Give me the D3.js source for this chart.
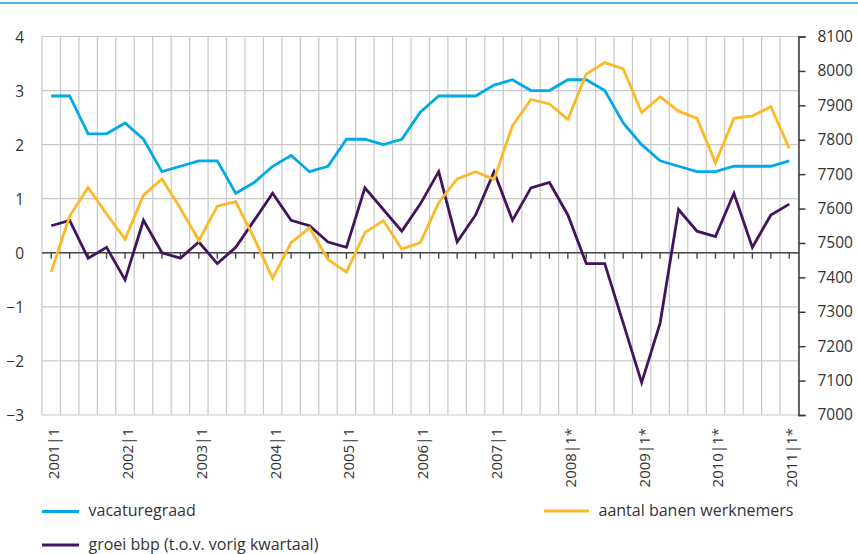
<!DOCTYPE html>
<html>
<head>
<meta charset="utf-8">
<script src="https://cdn.jsdelivr.net/npm/d3@7"></script>
<style>
  html, body { margin: 0; padding: 0; background: #fff; }
  svg { display: block; font-family: "Open Sans", "DejaVu Sans", sans-serif; }
</style>
</head>
<body>
<svg id="chart" width="858" height="554"></svg>
<script>
// Quarters 2001 Q1 .. 2011 Q1
const quarters = [
  "2001q1","2001q2","2001q3","2001q4","2002q1","2002q2","2002q3","2002q4",
  "2003q1","2003q2","2003q3","2003q4","2004q1","2004q2","2004q3","2004q4",
  "2005q1","2005q2","2005q3","2005q4","2006q1","2006q2","2006q3","2006q4",
  "2007q1","2007q2","2007q3","2007q4","2008q1","2008q2","2008q3","2008q4",
  "2009q1","2009q2","2009q3","2009q4","2010q1","2010q2","2010q3","2010q4",
  "2011q1"
];

// Labels shown under the axis, one per year (first quarter)
const yearTickQuarters = ["2001q1","2002q1","2003q1","2004q1","2005q1","2006q1",
  "2007q1","2008q1","2009q1","2010q1","2011q1"];
const yearTickLabels = ["2001|1","2002|1","2003|1","2004|1","2005|1","2006|1",
  "2007|1","2008|1*","2009|1*","2010|1*","2011|1*"];

// Left axis (percent) and right axis (x 1000 jobs) ticks
const leftTicks = [-3, -2, -1, 0, 1, 2, 3, 4];
const rightTicks = [7000, 7100, 7200, 7300, 7400, 7500, 7600, 7700, 7800, 7900, 8000, 8100];

// Vacancy rate (left axis)
const vacaturegraad = [2.9,2.9,2.2,2.2,2.4,2.1,1.5,1.6,1.7,1.7,1.1,1.3,1.6,1.8,1.5,1.6,
  2.1,2.1,2.0,2.1,2.6,2.9,2.9,2.9,3.1,3.2,3.0,3.0,3.2,3.2,3.0,2.4,2.0,1.7,1.6,1.5,
  1.5,1.6,1.6,1.6,1.7];

// GDP growth vs previous quarter (left axis)
const groeiBbp = [0.5,0.6,-0.1,0.1,-0.5,0.6,0.0,-0.1,0.2,-0.2,0.1,0.6,1.1,0.6,0.5,0.2,
  0.1,1.2,0.8,0.4,0.9,1.5,0.2,0.7,1.5,0.6,1.2,1.3,0.7,-0.2,-0.2,-1.3,-2.4,-1.3,0.8,0.4,
  0.3,1.1,0.1,0.7,0.9];

// Employee jobs (right axis)
const banenWerknemers = [7416,7578,7661,7584,7511,7639,7686,7601,7507,7607,7620,7513,
  7397,7501,7544,7452,7415,7530,7565,7482,7501,7617,7686,7707,7685,7841,7917,7904,
  7859,7991,8024,8006,7879,7925,7883,7862,7733,7862,7869,7896,7775];

const seriesNames = ["vacaturegraad", "aantal banen werknemers", "groei bbp (t.o.v. vorig kwartaal)"];
const colors = { vac: "#00a9e8", banen: "#fdb827", bbp: "#42145f" };

const svg = d3.select("#chart");

const plot = { left: 42, right: 798.5, top: 36.5, bottom: 415 };

const x = d3.scaleBand().domain(quarters).range([plot.left, plot.right]).padding(0);
const yL = d3.scaleLinear().domain([-3, 4]).range([plot.bottom, plot.top]);
const yR = d3.scaleLinear().domain([7000, 8100]).range([plot.bottom, plot.top]);
const cx = q => x(q) + x.bandwidth() / 2;

// Top rule
svg.append("line").attr("x1", 0).attr("x2", 858).attr("y1", 3).attr("y2", 3)
  .attr("stroke", "#56b2e4").attr("stroke-width", 2);

// Grid: vertical lines at quarter boundaries
const grid = svg.append("g").attr("stroke", "#c8c8c8").attr("stroke-width", 1.2);
const bounds = quarters.map(q => x(q)).concat([plot.right]);
grid.selectAll("line.v").data(bounds).join("line").attr("class", "v")
  .attr("x1", d => d).attr("x2", d => d)
  .attr("y1", plot.top).attr("y2", plot.bottom);
// Horizontal lines at left-axis ticks
grid.selectAll("line.h").data(leftTicks).join("line").attr("class", "h")
  .attr("x1", plot.left).attr("x2", plot.right)
  .attr("y1", d => yL(d)).attr("y2", d => yL(d));

// Left axis labels
const fmtL = d => d < 0 ? "\u2212" + Math.abs(d) : String(d);
svg.append("g").selectAll("text").data(leftTicks).join("text")
  .attr("x", 24).attr("y", d => yL(d))
  .attr("text-anchor", "end").attr("dominant-baseline", "central")
  .attr("font-size", 15.5).attr("fill", "#333")
  .text(fmtL);

// Right axis
const rAxis = svg.append("g").attr("transform", `translate(${plot.right},0)`)
  .call(d3.axisRight(yR).tickValues(rightTicks).tickSize(7).tickPadding(12).tickFormat(d3.format("d")));
rAxis.select(".domain").attr("stroke", "#3a3a3a").attr("stroke-width", 1.5);
rAxis.selectAll(".tick line").attr("stroke", "#3a3a3a").attr("stroke-width", 1.5);
rAxis.selectAll(".tick text").attr("font-size", 15.5).attr("fill", "#333")
  .attr("font-family", "'Open Sans', sans-serif");

// Zero line with quarter ticks
const xAxis = svg.append("g").attr("transform", `translate(0,${yL(0)})`)
  .call(d3.axisBottom(x).tickSize(6).tickFormat(""));
xAxis.select(".domain").attr("d", `M${plot.left},0H${plot.right}`)
  .attr("stroke", "#4a4a4a").attr("stroke-width", 1.6);
xAxis.selectAll(".tick line").attr("stroke", "#4a4a4a").attr("stroke-width", 1.4);

// Year labels, rotated
svg.append("g").selectAll("text").data(yearTickQuarters).join("text")
  .attr("transform", q => `translate(${cx(q)},428) rotate(-90)`)
  .attr("text-anchor", "end").attr("dy", 8)
  .attr("font-size", 15).attr("fill", "#333")
  .text((q, i) => yearTickLabels[i]);

// Series lines
const lineL = d3.line().x((d, i) => cx(quarters[i])).y(d => yL(d));
const lineR = d3.line().x((d, i) => cx(quarters[i])).y(d => yR(d));

svg.append("path").datum(groeiBbp).attr("d", lineL)
  .attr("fill", "none").attr("stroke", colors.bbp).attr("stroke-width", 2.8)
  .attr("stroke-linejoin", "miter");
svg.append("path").datum(vacaturegraad).attr("d", lineL)
  .attr("fill", "none").attr("stroke", colors.vac).attr("stroke-width", 2.8)
  .attr("stroke-linejoin", "miter");
svg.append("path").datum(banenWerknemers).attr("d", lineR)
  .attr("fill", "none").attr("stroke", colors.banen).attr("stroke-width", 2.8)
  .attr("stroke-linejoin", "miter");

// Legend
const legendItems = [
  { name: seriesNames[0], color: colors.vac, x: 42, y: 511.5, len: 37 },
  { name: seriesNames[1], color: colors.banen, x: 544, y: 511, len: 45 },
  { name: seriesNames[2], color: colors.bbp, x: 42, y: 545, len: 37 }
];
const lg = svg.append("g").selectAll("g").data(legendItems).join("g")
  .attr("transform", d => `translate(${d.x},${d.y})`);
lg.append("line").attr("x1", 0).attr("x2", d => d.len).attr("y1", 0).attr("y2", 0)
  .attr("stroke", d => d.color).attr("stroke-width", 2.8);
lg.append("text").attr("x", d => d.len + 9.5).attr("y", 4.8)
  .attr("font-size", 16).attr("fill", "#333").text(d => d.name);
</script>
</body>
</html>
